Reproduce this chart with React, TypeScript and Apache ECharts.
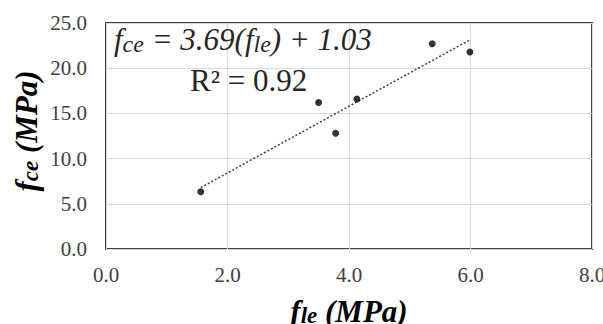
import React, { useEffect, useRef } from "react";
import * as echarts from "echarts";

const pointsX = [1.56, 3.5, 3.78, 4.13, 5.37, 5.99];
const pointsY = [6.34, 16.2, 12.8, 16.6, 22.7, 21.8];
const trendX = [1.56, 6.0];
const trendY = [6.79, 23.17];
const xTickValues = [0, 2, 4, 6, 8];
const yTickValues = [0, 5, 10, 15, 20, 25];
const xTickLabels = ["0.0", "2.0", "4.0", "6.0", "8.0"];
const yTickLabels = ["0.0", "5.0", "10.0", "15.0", "20.0", "25.0"];
const equationParts = [
  { t: "f", sub: false },
  { t: "ce", sub: true },
  { t: " = 3.69(", sub: false },
  { t: "f", sub: false },
  { t: "le", sub: true },
  { t: ") + 1.03", sub: false },
];
const r2Text = "R² = 0.92";

const FONT = "Liberation Serif";

export default function App() {
  const ref = useRef<HTMLDivElement>(null);
  useEffect(() => {
    document.body.style.margin = "0";
    const chart = echarts.init(ref.current!, null, { renderer: "svg" });
    const richTitle = {
      m: { fontFamily: FONT, fontSize: 31, fontStyle: "italic", fontWeight: "bold", color: "#000", lineHeight: 34, verticalAlign: "bottom" },
      s: { fontFamily: FONT, fontSize: 23, fontStyle: "italic", fontWeight: "bold", color: "#000", lineHeight: 30, verticalAlign: "bottom" },
    };
    chart.setOption({
      animation: false,
      backgroundColor: "#fff",
      textStyle: { fontFamily: FONT },
      grid: { left: 106, top: 23, width: 486, height: 226, show: true, borderColor: "#404040", borderWidth: 2, backgroundColor: "transparent", containLabel: false, outerBoundsMode: "none" },
      xAxis: {
        type: "value",
        min: 0, max: 8, interval: 2,
        axisLine: { show: false },
        axisTick: { show: false },
        splitLine: { lineStyle: { color: "#d9d9d9", width: 1 } },
        axisLabel: { show: false },
        name: "{m|f}{s|le}{m| (MPa)}",
        nameLocation: "middle",
        nameGap: 44,
        nameTextStyle: { rich: richTitle },
      },
      yAxis: {
        type: "value",
        min: 0, max: 25, interval: 5,
        axisLine: { show: false },
        axisTick: { show: false },
        splitLine: { lineStyle: { color: "#d9d9d9", width: 1 } },
        axisLabel: { show: false },
        name: "{m|f}{s|ce}{m| (MPa)}",
        nameLocation: "middle",
        nameGap: 64,
        nameTextStyle: { rich: richTitle, padding: [0, 0, 0, 10] },
      },
      series: [
        {
          type: "line",
          data: trendX.map((x, i) => [x, trendY[i]]),
          showSymbol: false,
          lineStyle: { color: "#404040", width: 1.5, type: [2, 2] },
          z: 2,
        },
        {
          type: "scatter",
          data: pointsX.map((x, i) => [x, pointsY[i]]),
          symbolSize: 7,
          itemStyle: { color: "#000" },
          z: 3,
        },
      ],
    });

    const tickStyle = { fontFamily: FONT, fontSize: 21, fill: "#404040" };
    const graphics: any[] = [];
    yTickValues.forEach((v, i) => {
      const p = chart.convertToPixel({ gridIndex: 0 }, [0, v]) as number[];
      graphics.push({ type: "text", x: p[0] - 19, y: p[1], style: { ...tickStyle, text: yTickLabels[i], align: "right", verticalAlign: "middle" } });
    });
    xTickValues.forEach((v, i) => {
      const p = chart.convertToPixel({ gridIndex: 0 }, [v, 0]) as number[];
      graphics.push({ type: "text", x: p[0], y: p[1] + 26, style: { ...tickStyle, text: xTickLabels[i], align: "center", verticalAlign: "middle" } });
    });

    const ctx = document.createElement("canvas").getContext("2d")!;
    const mainSize = 31;
    const subSize = 24;
    let cx = 114;
    const baseY = 55;
    equationParts.forEach((part) => {
      const size = part.sub ? subSize : mainSize;
      ctx.font = `italic ${size}px "${FONT}"`;
      const w = ctx.measureText(part.t).width;
      graphics.push({
        type: "text",
        x: cx,
        y: baseY + (part.sub ? 1 : 0),
        style: { text: part.t, fontFamily: FONT, fontSize: size, fontStyle: "italic", fill: "#262626", align: "left", verticalAlign: "bottom" },
      });
      cx += w;
    });
    graphics.push({ type: "text", x: 190, y: 80, style: { text: r2Text, fontFamily: FONT, fontSize: 31, fill: "#262626", align: "left", verticalAlign: "middle" } });

    chart.setOption({ graphic: graphics });
    return () => chart.dispose();
  }, []);
  return <div ref={ref} style={{ position: "fixed", left: 0, top: 0, width: 603, height: 324 }} />;
}
